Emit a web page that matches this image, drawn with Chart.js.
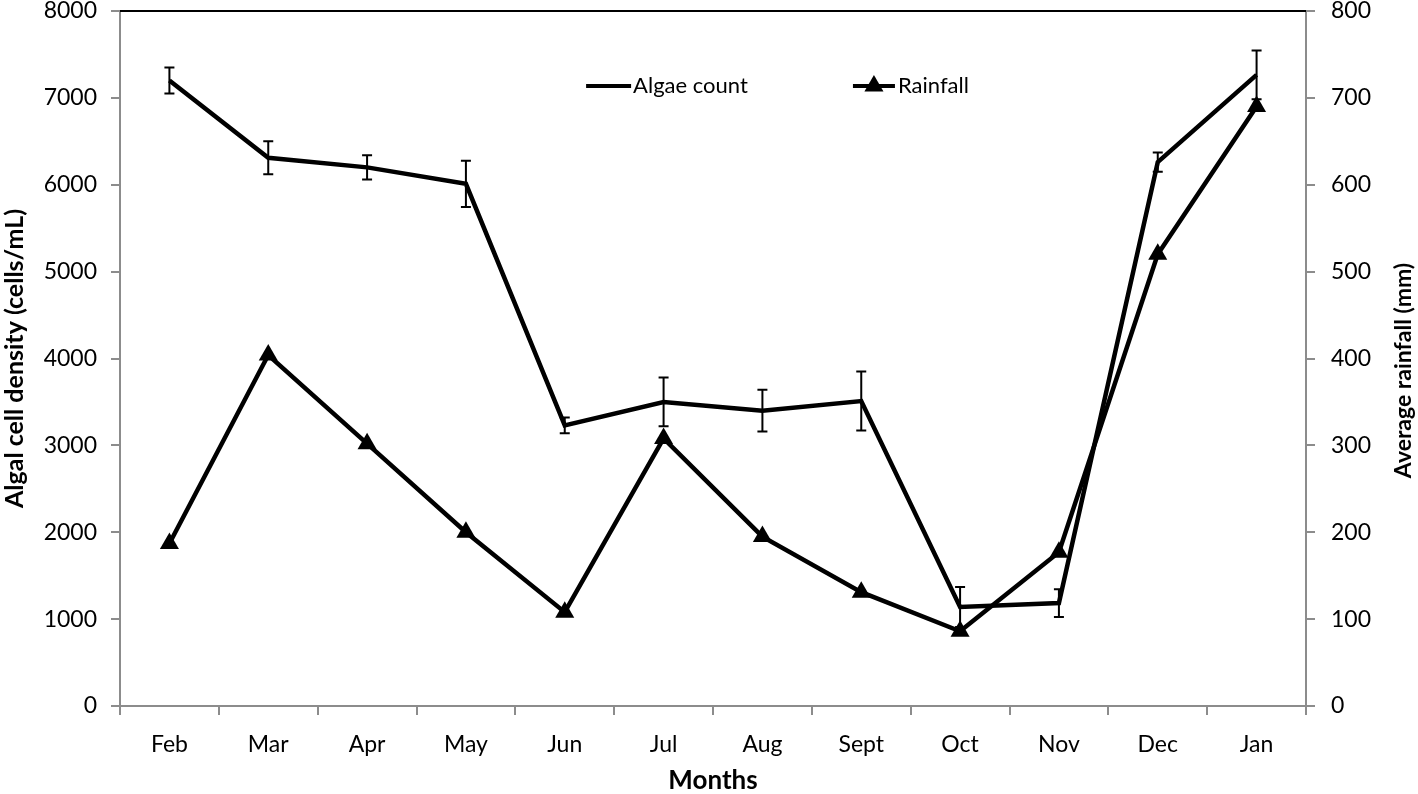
<!DOCTYPE html>
<html>
<head>
<meta charset="utf-8">
<script src="https://cdn.jsdelivr.net/npm/chart.js@4"></script>
<style>
  html, body { margin: 0; padding: 0; background: #fff; }
  #wrap { width: 1418px; height: 794px; }
</style>
</head>
<body>
<div id="wrap"><canvas id="mycanvas"></canvas></div>
<script>
var months = ['Feb', 'Mar', 'Apr', 'May', 'Jun', 'Jul', 'Aug', 'Sept', 'Oct', 'Nov', 'Dec', 'Jan'];
var algae = [7200, 6310, 6200, 6010, 3230, 3500, 3400, 3510, 1140, 1185, 6260, 7265];
var algaeErr = [150, 190, 140, 265, 90, 280, 240, 340, 230, 160, 110, 280];
var rainfall = [187, 404, 302, 200, 108, 308, 195, 131, 86, 177, 520, 690];

var FONT = 'Lato, "Open Sans", sans-serif';
var AXIS_GREY = '#8c8c8c';

// error bars on the algae series
var errorBars = {
    id: 'errorBars',
    afterDatasetsDraw: function (chart) {
        var meta = chart.getDatasetMeta(0);
        var y = chart.scales.y;
        var ctx = chart.ctx;
        ctx.save();
        ctx.strokeStyle = '#000';
        ctx.lineWidth = 2;
        for (var i = 0; i < meta.data.length; i++) {
            var px = meta.data[i].x;
            var top = y.getPixelForValue(algae[i] + algaeErr[i]);
            var bot = y.getPixelForValue(algae[i] - algaeErr[i]);
            ctx.beginPath();
            ctx.moveTo(px, top); ctx.lineTo(px, bot);
            ctx.moveTo(px - 5, top); ctx.lineTo(px + 5, top);
            ctx.moveTo(px - 5, bot); ctx.lineTo(px + 5, bot);
            ctx.stroke();
        }
        ctx.restore();
    }
};

// black top border, legend inside plot, right title reading upward
var extras = {
    id: 'extras',
    afterDraw: function (chart) {
        var ctx = chart.ctx;
        var a = chart.chartArea;
        var w = a.right - a.left;
        ctx.save();
        ctx.strokeStyle = '#000';
        ctx.lineWidth = 2;
        ctx.beginPath();
        ctx.moveTo(a.left, a.top); ctx.lineTo(a.right, a.top);
        ctx.stroke();

        // legend
        var ly = a.top + 75;
        var x1 = a.left + w * 0.393;
        ctx.lineWidth = 4;
        ctx.beginPath();
        ctx.moveTo(x1, ly); ctx.lineTo(x1 + 45, ly);
        ctx.stroke();
        ctx.fillStyle = '#000';
        ctx.font = '22px ' + FONT;
        ctx.textBaseline = 'middle';
        ctx.textAlign = 'left';
        ctx.fillText('Algae count', x1 + 47, ly);

        var x2 = a.left + w * 0.618;
        ctx.beginPath();
        ctx.moveTo(x2, ly); ctx.lineTo(x2 + 42, ly);
        ctx.stroke();
        var cx = x2 + 21, r = 11;
        ctx.beginPath();
        ctx.moveTo(cx, ly - r);
        ctx.lineTo(cx + r * 0.866, ly + r * 0.5);
        ctx.lineTo(cx - r * 0.866, ly + r * 0.5);
        ctx.closePath();
        ctx.fill();
        ctx.fillText('Rainfall', x2 + 45, ly);

        // right axis title
        ctx.font = 'bold 23px ' + FONT;
        ctx.textAlign = 'center';
        ctx.translate(chart.width - 14, (a.top + a.bottom) / 2 + 12);
        ctx.rotate(-Math.PI / 2);
        ctx.fillText('Average rainfall (mm)', 0, 0);
        ctx.restore();
    }
};

function plain(v) { return String(v); }

var ctx = document.getElementById('mycanvas');
var mycanvas = new Chart(ctx, {
    type: 'line',
    data: {
        labels: months,
        datasets: [
            {
                label: 'Algae count',
                data: algae,
                yAxisID: 'y',
                borderColor: '#000',
                backgroundColor: '#000',
                borderWidth: 4.5,
                pointRadius: 0,
                tension: 0
            },
            {
                label: 'Rainfall',
                data: rainfall,
                yAxisID: 'y2',
                borderColor: '#000',
                backgroundColor: '#000',
                borderWidth: 4.5,
                pointStyle: 'triangle',
                pointRadius: 11,
                pointBorderWidth: 0,
                tension: 0
            }
        ]
    },
    options: {
        responsive: true,
        maintainAspectRatio: false,
        animation: false,
        layout: { padding: { top: 10, left: 0, right: 0, bottom: 0 } },
        plugins: {
            legend: { display: false },
            tooltip: { enabled: false }
        },
        scales: {
            x: {
                offset: true,
                grid: {
                    offset: true,
                    drawOnChartArea: false,
                    color: AXIS_GREY,
                    lineWidth: 2,
                    tickLength: 9
                },
                border: { color: AXIS_GREY, width: 2 },
                ticks: {
                    color: '#000',
                    font: { family: FONT, size: 23 },
                    padding: 16,
                    maxRotation: 0,
                    autoSkip: false
                },
                title: {
                    display: true,
                    text: 'Months',
                    color: '#000',
                    font: { family: FONT, size: 26, weight: 'bold', lineHeight: 1 },
                    padding: { top: 0, bottom: 0 }
                },
                afterFit: function (s) { s.height = 88; s.paddingLeft = 0; s.paddingRight = 0; }
            },
            y: {
                position: 'left',
                min: 0,
                max: 8000,
                grid: {
                    drawOnChartArea: false,
                    color: AXIS_GREY,
                    lineWidth: 2,
                    tickLength: 9
                },
                border: { color: AXIS_GREY, width: 2 },
                ticks: {
                    stepSize: 1000,
                    color: '#000',
                    font: { family: FONT, size: 23 },
                    padding: 14,
                    callback: plain
                },
                title: {
                    display: true,
                    text: 'Algal cell density (cells/mL)',
                    color: '#000',
                    font: { family: FONT, size: 25, weight: 'bold' },
                    padding: { top: 0, bottom: 0 }
                },
                afterFit: function (s) { s.width = 120; s.paddingTop = 0; s.paddingBottom = 0; }
            },
            y2: {
                position: 'right',
                min: 0,
                max: 800,
                grid: {
                    drawOnChartArea: false,
                    color: AXIS_GREY,
                    lineWidth: 2,
                    tickLength: 9
                },
                border: { color: AXIS_GREY, width: 2 },
                ticks: {
                    stepSize: 100,
                    color: '#000',
                    font: { family: FONT, size: 23 },
                    padding: 16,
                    callback: plain
                },
                afterFit: function (s) { s.width = 112; s.paddingTop = 0; s.paddingBottom = 0; }
            }
        }
    },
    plugins: [errorBars, extras]
});
</script>
</body>
</html>
